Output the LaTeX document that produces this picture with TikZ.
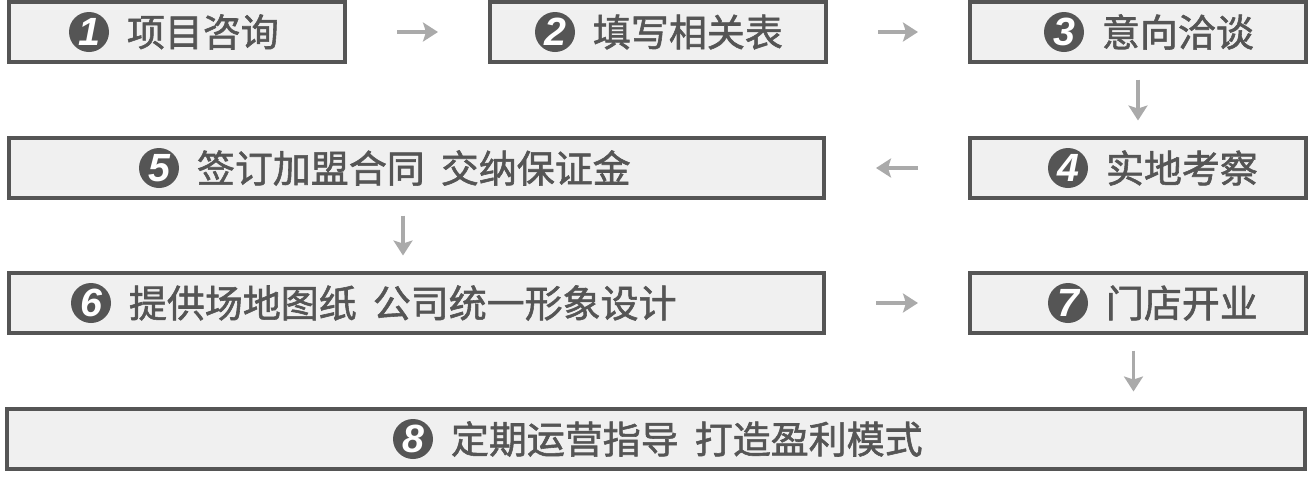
\documentclass[tikz,border=0pt]{standalone}
\usepackage{fontspec}
\usetikzlibrary{positioning, arrows.meta}

\newfontfamily\cjk[FakeBold=1.5, WordSpace=1.9]{Noto Sans CJK SC}
\newfontfamily\numfont{Liberation Sans}
\definecolor{boxgray}{HTML}{555555}
\definecolor{boxfill}{HTML}{F0F0F0}
\definecolor{arrowgray}{HTML}{AAAAAA}

\begin{document}
\begin{tikzpicture}
  \newcommand\stepboxwidth{3.36cm}
  \newcommand\wideboxwidth{8.15cm}
  \newcommand\stepboxheight{0.60cm}

  \tikzset{stepbox/.style={draw=boxgray, line width=0.04cm, fill=boxfill, minimum height=\stepboxheight, inner sep=0}}
  \tikzset{steplabel/.style={inner sep=0, outer sep=0, text=boxgray, font=\cjk\fontsize{10.8}{12}\selectfont}}
  \tikzset{stepnum/.style={circle, fill=boxgray, inner sep=0, outer sep=0, minimum size=0.40cm, text=white, font=\numfont\bfseries\itshape\fontsize{11.2}{12}\selectfont}}
  \tikzset{flow/.style={draw=arrowgray, line width=0.033cm, -{Stealth[length=0.15cm, width=0.19cm, inset=0.03cm]}}}
  \tikzset{hflow/.style={flow, shorten <=0.5cm, shorten >=0.5cm}}
  \tikzset{vflow/.style={flow, shorten <=0.155cm, shorten >=0.155cm}}

  \useasboundingbox (0, 0) rectangle (13.15, 4.78);

  % the boxes, row by row
  \node[stepbox, minimum width=\stepboxwidth] at (1.77, 4.46) (n1) {};
  \node[stepbox, minimum width=\stepboxwidth, right=1.41cm of n1] (n2) {};
  \node[stepbox, minimum width=\stepboxwidth, right=1.40cm of n2] (n3) {};
  \node[stepbox, minimum width=\stepboxwidth, below=0.72cm of n3] (n4) {};
  \node[stepbox, minimum width=\wideboxwidth, left=1.42cm of n4] (n5) {};
  \node[stepbox, minimum width=\wideboxwidth, below=0.71cm of n5] (n6) {};
  \node[stepbox, minimum width=\stepboxwidth, below=0.71cm of n4] (n7) {};
  \node[stepbox, minimum width=12.98cm] at (6.56, 0.39) (n8) {};

  % number and text inside each box
  \foreach \id/\offset/\txt in {1/1.20cm/项目咨询, 2/1.05cm/填写相关表, 3/1.34cm/意向洽谈, 4/1.38cm/实地考察, 5/1.90cm/签订加盟合同 交纳保证金, 6/1.22cm/提供场地图纸 公司统一形象设计, 7/1.38cm/门店开业, 8/4.46cm/定期运营指导 打造盈利模式}{
    \node[steplabel, right=\offset of n\id.west] (t\id) {\txt};
    \node[stepnum, left=0.18cm of t\id] (c\id) {\id};
  }

  \coordinate (n8top) at (n7.south |- n8.north);

  \draw[hflow] (n1) -- (n2);
  \draw[hflow] (n2) -- (n3);
  \draw[vflow] (n3) -- (n4);
  \draw[hflow] (n4) -- (n5);
  \draw[vflow] ([xshift=-0.135cm]n5.south) -- ([xshift=-0.135cm]n6.north);
  \draw[hflow] (n6) -- (n7);
  \draw[vflow] ([xshift=-0.045cm]n7.south) -- ([xshift=-0.045cm]n8top);
\end{tikzpicture}
\end{document}
